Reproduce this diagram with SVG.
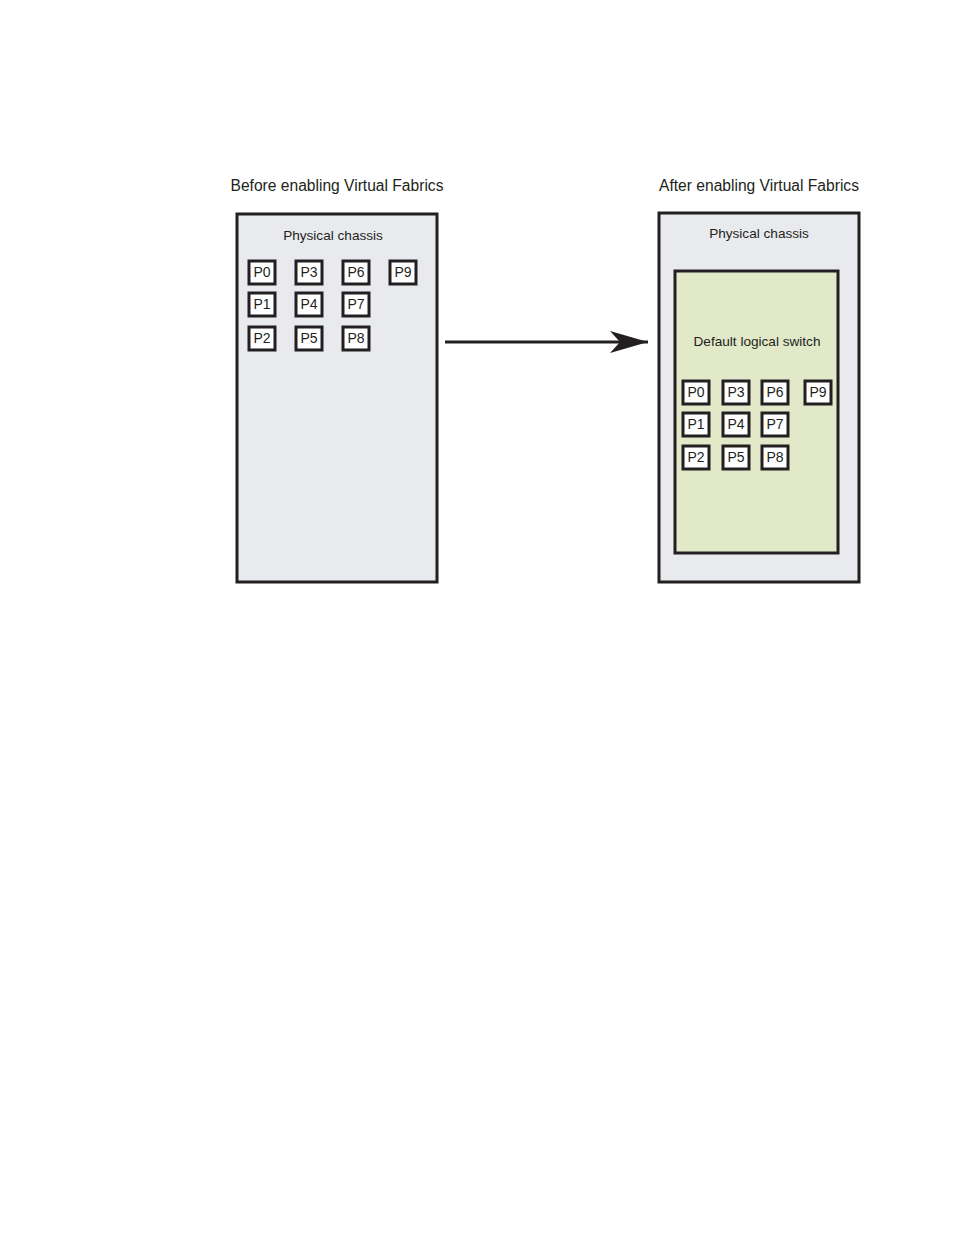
<svg xmlns="http://www.w3.org/2000/svg" width="954" height="1235" viewBox="0 0 954 1235">
<style>
text{font-family:"Liberation Sans",Arial,sans-serif;fill:#231f20;text-anchor:middle}
.title{font-size:15.6px}
.lbl{font-size:13.6px}
.chassis{fill:#e9eaee;stroke:#231f20;stroke-width:3}
.ls{fill:#e1e9c9;stroke:#231f20;stroke-width:3}
.port rect{fill:#fff;stroke:#231f20;stroke-width:3}
.port text{font-size:14px}
</style>
<defs>
<marker id="ah" markerWidth="40" markerHeight="24" refX="38" refY="11" orient="auto" markerUnits="userSpaceOnUse">
<path d="M0,0 L38,11 L0,22 L10,11 Z" fill="#231f20"/>
</marker>
</defs>
<rect width="954" height="1235" fill="#fff"/>
<text class="title" x="337" y="191">Before enabling Virtual Fabrics</text>
<text class="title" x="759" y="191">After enabling Virtual Fabrics</text>
<g id="chassis-before">
<rect class="chassis" x="237" y="214" width="200" height="368"/>
<text class="lbl" x="333" y="240">Physical chassis</text>
</g>
<g id="ports-before" class="port">
<g id="b-p0"><rect x="249" y="261" width="26" height="23"/><text x="262" y="277">P0</text></g>
<g id="b-p3"><rect x="296" y="261" width="26" height="23"/><text x="309" y="277">P3</text></g>
<g id="b-p6"><rect x="343" y="261" width="26" height="23"/><text x="356" y="277">P6</text></g>
<g id="b-p9"><rect x="390" y="261" width="26" height="23"/><text x="403" y="277">P9</text></g>
<g id="b-p1"><rect x="249" y="293" width="26" height="23"/><text x="262" y="309">P1</text></g>
<g id="b-p4"><rect x="296" y="293" width="26" height="23"/><text x="309" y="309">P4</text></g>
<g id="b-p7"><rect x="343" y="293" width="26" height="23"/><text x="356" y="309">P7</text></g>
<g id="b-p2"><rect x="249" y="327" width="26" height="23"/><text x="262" y="343">P2</text></g>
<g id="b-p5"><rect x="296" y="327" width="26" height="23"/><text x="309" y="343">P5</text></g>
<g id="b-p8"><rect x="343" y="327" width="26" height="23"/><text x="356" y="343">P8</text></g>
</g>
<g id="chassis-after">
<rect class="chassis" x="659" y="213" width="200" height="369"/>
<text class="lbl" x="759" y="238">Physical chassis</text>
</g>
<g id="logical-switch">
<rect class="ls" x="675" y="271" width="163" height="282"/>
<text class="lbl" x="757" y="346">Default logical switch</text>
</g>
<g id="ports-after" class="port">
<g id="a-p0"><rect x="683" y="381" width="26" height="23"/><text x="696" y="397">P0</text></g>
<g id="a-p3"><rect x="723" y="381" width="26" height="23"/><text x="736" y="397">P3</text></g>
<g id="a-p6"><rect x="762" y="381" width="26" height="23"/><text x="775" y="397">P6</text></g>
<g id="a-p9"><rect x="805" y="381" width="26" height="23"/><text x="818" y="397">P9</text></g>
<g id="a-p1"><rect x="683" y="413" width="26" height="23"/><text x="696" y="429">P1</text></g>
<g id="a-p4"><rect x="723" y="413" width="26" height="23"/><text x="736" y="429">P4</text></g>
<g id="a-p7"><rect x="762" y="413" width="26" height="23"/><text x="775" y="429">P7</text></g>
<g id="a-p2"><rect x="683" y="446" width="26" height="23"/><text x="696" y="462">P2</text></g>
<g id="a-p5"><rect x="723" y="446" width="26" height="23"/><text x="736" y="462">P5</text></g>
<g id="a-p8"><rect x="762" y="446" width="26" height="23"/><text x="775" y="462">P8</text></g>
</g>
<g id="connectors">
<line x1="445" y1="342" x2="648" y2="342" stroke="#231f20" stroke-width="3" marker-end="url(#ah)"/>
</g>
</svg>
